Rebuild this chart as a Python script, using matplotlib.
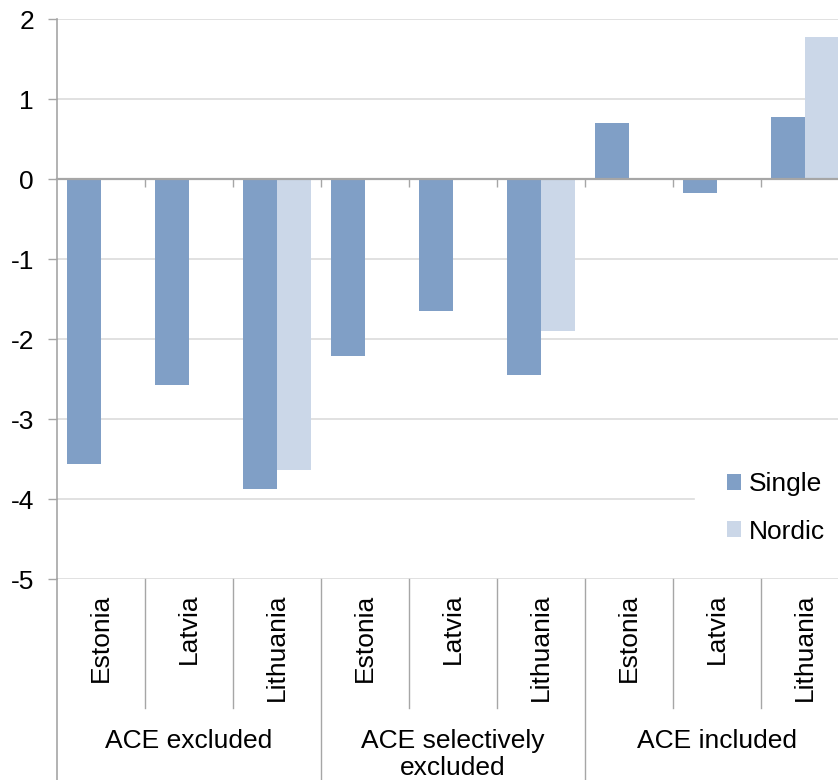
import numpy as np
import matplotlib
matplotlib.use("Agg")
from matplotlib import pyplot as plt

plt.rcParams['font.family'] = ['Liberation Sans', 'DejaVu Sans']
plt.rcParams['axes.unicode_minus'] = False

groups = ["ACE excluded", "ACE selectively\nexcluded", "ACE included"]
countries = ["Estonia", "Latvia", "Lithuania"]
single = [-3.56, -2.58, -3.88, -2.21, -1.65, -2.45, 0.70, -0.17, 0.78]
nordic = [np.nan, np.nan, -3.64, np.nan, np.nan, -1.90, np.nan, np.nan, 1.77]
yticks = [-5, -4, -3, -2, -1, 0, 1, 2]

single_color = '#809FC6'
nordic_color = '#CBD7E8'
axis_grey = '#A6A6A6'
grid_grey = '#D9D9D9'
fs = 19

fig = plt.figure(figsize=(8.38, 7.80), dpi=100)
ax = fig.add_axes([57 / 838, 1 - 579 / 780, 792 / 838, 560 / 780])

n = len(single)
x = np.arange(n) + 0.5
w = 34 / 88
ax.bar(x - w / 2, single, w, color=single_color, label='Single', zorder=2)
ax.bar(x + w / 2, nordic, w, color=nordic_color, label='Nordic', zorder=2)

ax.set_xlim(0, n)
ax.set_ylim(-5, 2)
ax.set_yticks(yticks)
ax.set_yticklabels([str(t) for t in yticks], fontsize=fs)
ax.yaxis.grid(True, color=grid_grey, linewidth=1.1)
ax.set_axisbelow(True)

# category axis sits on the zero line, ticks between the bars
ax.spines['bottom'].set_position(('data', 0))
ax.spines['bottom'].set_color(axis_grey)
ax.spines['bottom'].set_linewidth(1.6)
ax.spines['left'].set_color(axis_grey)
ax.spines['left'].set_linewidth(1.2)
ax.spines['top'].set_visible(False)
ax.spines['right'].set_visible(False)
ax.set_xticks(np.arange(1, n))
ax.set_xticklabels([])
ax.tick_params(axis='x', direction='out', length=6, width=1, color=axis_grey)
ax.tick_params(axis='y', direction='out', length=6.5, width=1, color=axis_grey, pad=10)

# labels and dividers below the plot
xt = ax.get_xaxis_transform()
for i in range(n):
    ax.text(x[i], -0.026, countries[i % 3], rotation=90, ha='center', va='top',
            fontsize=fs, transform=xt)
for b in range(1, n):
    bottom = -0.36 if b % 3 == 0 else -0.23
    ax.plot([b, b], [0, bottom], color=axis_grey, linewidth=1, transform=xt, clip_on=False)
ax.plot([0, 0], [0, -0.36], color=axis_grey, linewidth=1.2, transform=xt, clip_on=False)
for g, name in enumerate(groups):
    ax.text(g * 3 + 1.5, -0.267, name, ha='center', va='top', fontsize=fs,
            linespacing=1.2, transform=xt)

leg = ax.legend(loc='center left', bbox_to_anchor=(695 / 838, 1 - 508 / 780),
                bbox_transform=fig.transFigure, fontsize=fs, frameon=True,
                handlelength=0.54, handleheight=0.54, handletextpad=0.3,
                labelspacing=0.88, borderpad=1.2, borderaxespad=0)
leg.get_frame().set_facecolor('white')
leg.get_frame().set_edgecolor('white')
leg.get_frame().set_alpha(1)
leg.get_frame().set_boxstyle('square', pad=0)

fig.savefig('out.png', dpi=100)
